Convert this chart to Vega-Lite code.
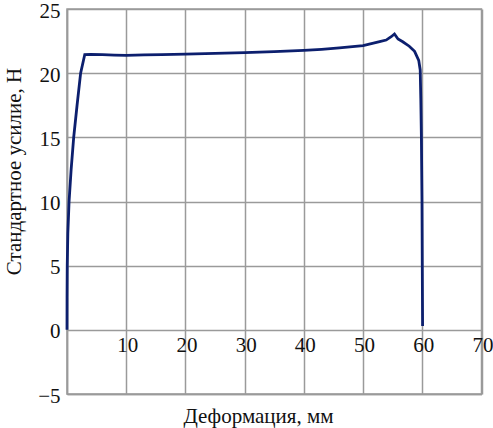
{
  "$schema": "https://vega.github.io/schema/vega-lite/v6.json",
  "width": 414.5,
  "height": 385,
  "autosize": {"type": "none"},
  "padding": {"left": 67, "top": 9, "right": 11.5, "bottom": 34},
  "background": "white",
  "config": {
    "view": {"stroke": "#9a9a9a", "strokeWidth": 1.5},
    "axis": {
      "labelFont": "Liberation Serif",
      "labelFontSize": 21,
      "labelColor": "#111",
      "titleFont": "Liberation Serif",
      "titleFontSize": 21,
      "titleFontWeight": "normal",
      "titleColor": "#111",
      "gridColor": "#9a9a9a",
      "gridWidth": 1.5,
      "gridOpacity": 1,
      "domainColor": "#9a9a9a",
      "domainWidth": 1.5,
      "ticks": false,
      "tickSize": 0
    }
  },
  "data": {
    "values": [
      {"d": 0.0, "f": 0.0},
      {"d": 0.01, "f": 2.5},
      {"d": 0.04, "f": 5.0},
      {"d": 0.14, "f": 7.5},
      {"d": 0.35, "f": 10.0},
      {"d": 0.7, "f": 12.5},
      {"d": 1.13, "f": 15.0},
      {"d": 1.7, "f": 17.5},
      {"d": 2.3, "f": 20.0},
      {"d": 3.0, "f": 21.45},
      {"d": 4.0, "f": 21.47},
      {"d": 6.0, "f": 21.44},
      {"d": 8.0, "f": 21.41},
      {"d": 10.0, "f": 21.39},
      {"d": 13.0, "f": 21.42},
      {"d": 16.0, "f": 21.45},
      {"d": 20.0, "f": 21.49},
      {"d": 25.0, "f": 21.55},
      {"d": 30.0, "f": 21.6},
      {"d": 35.0, "f": 21.68},
      {"d": 40.0, "f": 21.78},
      {"d": 43.0, "f": 21.86},
      {"d": 46.0, "f": 21.97},
      {"d": 50.0, "f": 22.14},
      {"d": 52.8, "f": 22.45},
      {"d": 53.9, "f": 22.58},
      {"d": 54.75, "f": 22.84},
      {"d": 55.3, "f": 23.05},
      {"d": 55.9, "f": 22.66},
      {"d": 56.7, "f": 22.45},
      {"d": 57.8, "f": 22.1},
      {"d": 58.7, "f": 21.7},
      {"d": 59.4, "f": 21.0},
      {"d": 59.65, "f": 20.25},
      {"d": 59.75, "f": 18.0},
      {"d": 59.85, "f": 15.0},
      {"d": 59.95, "f": 10.0},
      {"d": 60.0, "f": 5.0},
      {"d": 60.05, "f": 0.3}
    ]
  },
  "mark": {"type": "line", "color": "#0c1f6e", "strokeWidth": 2.8, "interpolate": "linear"},
  "encoding": {
    "x": {
      "field": "d",
      "type": "quantitative",
      "sort": null,
      "scale": {"domain": [0, 70], "nice": false, "zero": false},
      "axis": {
        "title": "Деформация, мм",
        "values": [0, 10, 20, 30, 40, 50, 60, 70],
        "labelExpr": "datum.value == 0 ? '' : datum.label",
        "labelBaseline": "alphabetic",
        "labelPadding": -43,
        "labelOffset": 1,
        "labelFlush": false,
        "labelOverlap": false,
        "titleX": 191,
        "titleY": 28,
        "titleBaseline": "alphabetic",
        "titleAlign": "center",
        "titleAnchor": null
      }
    },
    "y": {
      "field": "f",
      "type": "quantitative",
      "scale": {"domain": [-5, 25], "nice": false, "zero": false},
      "axis": {
        "title": "Стандартное усилие, Н",
        "values": [-5, 0, 5, 10, 15, 20, 25],
        "labelPadding": 7,
        "labelBaseline": "middle",
        "labelOffset": 2,
        "labelFlush": false,
        "labelOverlap": false,
        "titleX": -47,
        "titleY": 162,
        "titleAngle": 270,
        "titleBaseline": "alphabetic",
        "titleAlign": "center"
      }
    }
  }
}
